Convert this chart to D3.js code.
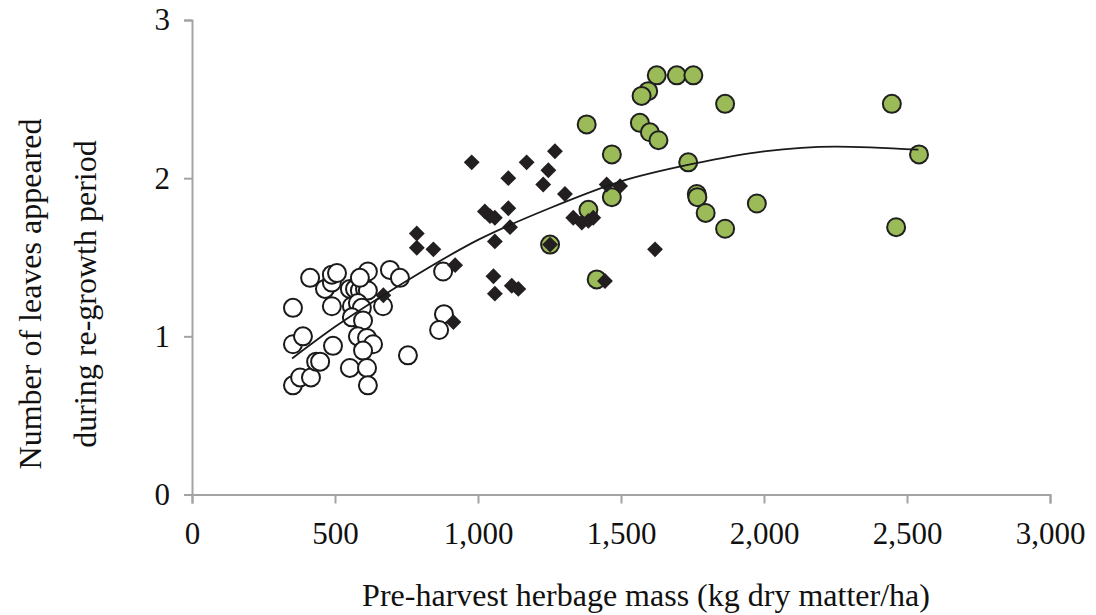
<!DOCTYPE html>
<html>
<head>
<meta charset="utf-8">
<script src="https://cdn.jsdelivr.net/npm/d3@7"></script>
<style>
  html, body { margin: 0; padding: 0; background: #fff; }
  svg { display: block; font-family: "Liberation Serif", "Times New Roman", serif; }
</style>
</head>
<body>
<svg id="chart" width="1096" height="615"></svg>
<script>
// Open circles: low herbage mass
const openX = [353, 378, 416, 434, 448, 353, 388, 353, 413, 465, 489, 489, 507, 489, 493,
  552, 570, 587, 605, 615, 615, 587, 692, 727, 668, 559, 580, 594, 559, 598,
  580, 612, 633, 598, 552, 612, 615, 755, 878, 881, 864];
const openY = [0.69, 0.74, 0.74, 0.84, 0.84, 0.95, 1.00, 1.18, 1.37, 1.30, 1.34, 1.39, 1.40, 1.19, 0.94,
  1.30, 1.30, 1.29, 1.30, 1.29, 1.41, 1.37, 1.42, 1.37, 1.19, 1.19, 1.21, 1.18, 1.12, 1.10,
  1.00, 0.99, 0.95, 0.91, 0.80, 0.80, 0.69, 0.88, 1.41, 1.14, 1.04];

// Green circles: high herbage mass
const greenX = [1625, 1695, 1753, 1595, 1572, 1864, 1380, 1566, 1601, 1631, 1468, 1735,
  1468, 1765, 1767, 1796, 1864, 1975, 1386, 1415, 1252, 2447, 2542, 2462];
const greenY = [2.65, 2.65, 2.65, 2.55, 2.52, 2.47, 2.34, 2.35, 2.29, 2.24, 2.15, 2.10,
  1.88, 1.90, 1.88, 1.78, 1.68, 1.84, 1.80, 1.36, 1.58, 2.47, 2.15, 1.69];

// Filled diamonds: medium herbage mass
const diamondX = [978, 786, 786, 844, 920, 914, 1024, 1042, 1059, 1106, 1112, 1059, 1054, 1059,
  1118, 1141, 1106, 1170, 1246, 1269, 1228, 1304, 1252, 1333, 1363, 1386, 1403, 1450,
  1497, 1444, 1619, 669];
const diamondY = [2.10, 1.65, 1.56, 1.55, 1.45, 1.09, 1.79, 1.76, 1.75, 1.81, 1.69, 1.60, 1.38, 1.27,
  1.32, 1.30, 2.00, 2.10, 2.05, 2.17, 1.96, 1.90, 1.58, 1.75, 1.72, 1.73, 1.75, 1.96,
  1.95, 1.35, 1.55, 1.26];

// Fitted trend line
const trendX = [350, 500, 750, 1000, 1250, 1500, 1750, 2000, 2250, 2540];
const trendY = [0.86, 1.06, 1.35, 1.61, 1.81, 1.98, 2.09, 2.17, 2.20, 2.18];

const xTicks = [0, 500, 1000, 1500, 2000, 2500, 3000];
const yTicks = [0, 1, 2, 3];

const svg = d3.select("#chart");
const x = d3.scaleLinear().domain([0, 3000]).range([192, 1050]);
const y = d3.scaleLinear().domain([0, 3]).range([494.5, 20]);
const axisColor = "#a3a3a3";

// Axes
const xAxis = svg.append("g")
  .attr("transform", `translate(0,${y(0)})`)
  .call(d3.axisBottom(x).tickValues(xTicks).tickSize(9).tickPadding(16)
    .tickFormat(d3.format(",")));
const yAxis = svg.append("g")
  .attr("transform", `translate(${x(0)},0)`)
  .call(d3.axisLeft(y).tickValues(yTicks).tickSize(8).tickPadding(14)
    .tickFormat(d3.format("d")));
[xAxis, yAxis].forEach(g => {
  g.attr("font-family", null);
  g.select(".domain").attr("stroke", axisColor).attr("stroke-width", 2);
  g.selectAll(".tick line").attr("stroke", axisColor).attr("stroke-width", 2);
  g.selectAll(".tick text").attr("fill", "#111").style("font-size", "31px")
    .style("font-family", "'Liberation Serif', serif");
});
xAxis.selectAll(".tick text").attr("dy", "0.78em");

// Axis titles
svg.append("text")
  .attr("x", 646).attr("y", 606)
  .attr("text-anchor", "middle")
  .style("font-size", "32px").attr("fill", "#111")
  .text("Pre-harvest herbage mass (kg dry matter/ha)");
const yTitle = svg.append("text")
  .attr("transform", "translate(41,294) rotate(-90)")
  .attr("text-anchor", "middle")
  .style("font-size", "32px").attr("fill", "#111");
yTitle.append("tspan").attr("x", 0).attr("y", 0).text("Number of leaves appeared");
yTitle.append("tspan").attr("x", 0).attr("y", 55).text("during re-growth period");

const r = 9;

// Open circles
svg.append("g").selectAll("circle")
  .data(d3.zip(openX, openY)).join("circle")
  .attr("cx", d => x(d[0])).attr("cy", d => y(d[1])).attr("r", r)
  .attr("fill", "#fff").attr("stroke", "#1a1a1a").attr("stroke-width", 2);

// Green circles
svg.append("g").selectAll("circle")
  .data(d3.zip(greenX, greenY)).join("circle")
  .attr("cx", d => x(d[0])).attr("cy", d => y(d[1])).attr("r", r)
  .attr("fill", "#9bbb59").attr("stroke", "#1f1f1f").attr("stroke-width", 2);

// Diamonds
const diamond = d3.symbol().type(d3.symbolDiamond2).size(160);
svg.append("g").selectAll("path")
  .data(d3.zip(diamondX, diamondY)).join("path")
  .attr("d", diamond)
  .attr("transform", d => `translate(${x(d[0])},${y(d[1])})`)
  .attr("fill", "#231f20");

// Trend line
const line = d3.line().x(d => x(d[0])).y(d => y(d[1])).curve(d3.curveMonotoneX);
svg.append("path")
  .datum(d3.zip(trendX, trendY))
  .attr("d", line)
  .attr("fill", "none").attr("stroke", "#1a1a1a").attr("stroke-width", 1.8);
</script>
</body>
</html>
